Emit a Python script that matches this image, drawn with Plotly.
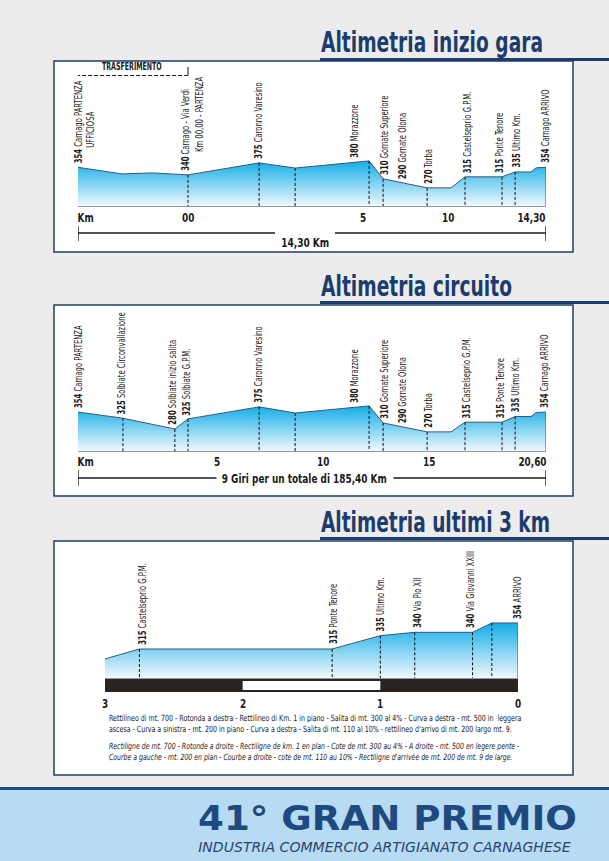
import json
import numpy as np
import plotly.graph_objects as go

W, H = 609, 861

# ---------------- data ----------------
# Profile 1 - "Altimetria inizio gara"  (x = position along the drawn profile, % of its length)
start_x = [0, 9.4, 16.0, 23.5, 38.7, 46.4, 62.2, 65.2, 74.6, 79.7, 82.7, 90.6, 93.4, 96.8, 97.9, 100]
start_alt = [354, 327, 331, 323, 372, 351, 380, 307, 270, 270, 315, 315, 335, 335, 352, 354]
start_marks = [23.5, 38.7, 46.4, 62.2, 65.2, 74.6, 82.7, 90.6, 93.4]
start_lab_x = [0, 23.1, 38.5, 59.2, 65.6, 69.2, 75.0, 83.1, 90.2, 93.6, 100]
start_lab_alt = ["354", "340", "375", "380", "310", "290", "270", "315", "315", "335", "354"]
start_lab_name = ["Carnago PARTENZA", "Carnago - Via Verdi", "Caronno Varesino", "Morazzone",
                  "Gornate Superiore", "Gornate Olona", "Torba", "Castelseprio G.P.M.",
                  "Ponte Tenore", "Ultimo Km.", "Carnago ARRIVO"]
start_extra_x = [2.6, 26.1]
start_extra_text = ["UFFICIOSA", "Km 00,00 - PARTENZA"]
start_tick_x = [1.5, 23.5, 60.9, 79.1, 96.8]
start_tick_text = ["Km", "00", "5", "10", "14,30"]
start_total = "14,30 Km"
transfer_x = [0, 23.5]
transfer_text = "TRASFERIMENTO"

# Profile 2 - "Altimetria circuito"
circ_x = [0, 9.6, 20.7, 23.5, 38.7, 46.4, 62.2, 65.2, 74.6, 79.7, 82.7, 90.6, 93.4, 96.8, 97.9, 100]
circ_alt = [354, 328, 282, 325, 376, 350, 380, 308, 270, 270, 311, 311, 335, 335, 352, 354]
circ_marks = [9.6, 20.7, 23.5, 38.7, 46.4, 62.2, 65.2, 74.6, 82.7, 90.6, 93.4]
circ_lab_x = [0, 9.4, 20.3, 23.3, 38.5, 59.2, 65.6, 69.2, 75.0, 83.1, 90.2, 93.4, 99.8]
circ_lab_alt = ["354", "325", "280", "325", "375", "380", "310", "290", "270", "315", "315", "335", "354"]
circ_lab_name = ["Carnago PARTENZA", "Solbiate Circonvallazione", "Solbiate inizio salita",
                 "Solbiate G.P.M.", "Caronno Varesino", "Morazzone", "Gornate Superiore",
                 "Gornate Olona", "Torba", "Castelseprio G.P.M.", "Ponte Tenore", "Ultimo Km.",
                 "Carnago ARRIVO"]
circ_tick_x = [1.5, 29.7, 52.4, 75.0, 97.2]
circ_tick_text = ["Km", "5", "10", "15", "20,60"]
circ_total = "9 Giri per un totale di 185,40 Km"

# Profile 3 - "Altimetria ultimi 3 km"  (x = km to the finish)
last_km = [3.0, 2.75, 1.35, 1.0, 0.75, 0.33, 0.19, 0.0]
last_alt = [300, 315, 315, 335, 340, 340, 354, 354]
last_marks = [2.75, 1.35, 1.0, 0.75, 0.33, 0.19]
last_lab_x = [2.73, 1.34, 1.0, 0.73, 0.34, 0.0]
last_lab_alt = ["315", "315", "335", "340", "340", "354"]
last_lab_name = ["Castelseprio G.P.M.", "Ponte Tenore", "Ultimo Km.", "Via Pio XII",
                 "Via Giovanni XXIII", "ARRIVO"]
last_tick_x = [3, 2, 1, 0]
last_tick_text = ["3", "2", "1", "0"]

titles = ["Altimetria inizio gara", "Altimetria circuito", "Altimetria ultimi 3 km"]

desc_it = ("Rettilineo di mt. 700 - Rotonda a destra - Rettilineo di Km. 1 in piano - Salita di mt. 300 al 4% - Curva a destra - mt. 500 in  leggera<br>"
           "ascesa - Curva a sinistra - mt. 200 in piano - Curva a destra - Salita di mt. 110 al 10% - rettilineo d'arrivo di mt. 200 largo mt. 9.")
desc_fr = ("Rectiligne de mt. 700 - Rotonde a droite - Rectiligne de km. 1 en plan - Cote de mt. 300 au 4% - A droite - mt. 500 en legere pente -<br>"
           "Courbe a gauche - mt. 200 en plan - Courbe a droite - cote de mt. 110 au 10% - Rectiligne d'arrivée de mt. 200 de mt. 9 de large.")
banner_title = "41° GRAN PREMIO"
banner_sub = "INDUSTRIA COMMERCIO ARTIGIANATO CARNAGHESE"

# ---------------- style ----------------
NARROW = "DejaVu Sans Condensed, Liberation Sans Narrow, sans-serif"
NAVY = "#1c3c6e"
INK = "#1a1a1a"
GRAD = [[0, "#f0f8fd"], [1, "#12ade7"]]
LAB_SIZE = 10
LAB_SQUEEZE = 0.76     # horizontal condensing of the small labels
TICK_SQUEEZE = 0.76
PX_PER_U = (546 - 78) / 100


def fx(px):
    return px / W


def fy(py):
    return 1 - py / H


fig = go.Figure()
shapes = []
annotations = []
squeeze = {}   # annotation index -> [mode, value, origin]


def add_ann(ann, mode=None, value=None, origin="left"):
    if mode:
        squeeze[len(annotations)] = [mode, value, origin]
    annotations.append(ann)


panels = [
    dict(xa="x", ya="y", xs=start_x, el=start_alt, marks=start_marks,
         lx=start_lab_x, la=start_lab_alt, ln=start_lab_name, base=196, top=788,
         xdom=(78, 546), ybot=206, ytop=61, xr=[0, 100],
         tx=start_tick_x, tt=start_tick_text, ty=218),
    dict(xa="x2", ya="y2", xs=circ_x, el=circ_alt, marks=circ_marks,
         lx=circ_lab_x, la=circ_lab_alt, ln=circ_lab_name, base=189, top=807.6,
         xdom=(78, 546), ybot=451, ytop=305, xr=[0, 100],
         tx=circ_tick_x, tt=circ_tick_text, ty=461),
    dict(xa="x3", ya="y3", xs=last_km, el=last_alt, marks=last_marks,
         lx=last_lab_x, la=last_lab_alt, ln=last_lab_name, base=271.5, top=476.9,
         xdom=(105, 518), ybot=678, ytop=541, xr=[3, 0],
         tx=last_tick_x, tt=last_tick_text, ty=703),
]

layout_axes = {}
for i, p in enumerate(panels):
    xs, el, base = p["xs"], p["el"], p["base"]
    order = np.argsort(xs)
    xs_sorted = np.array(xs)[order]
    el_sorted = np.array(el)[order]

    fig.add_trace(go.Scatter(
        x=list(xs) + [xs[-1]], y=list(el) + [base], xaxis=p["xa"], yaxis=p["ya"],
        mode="lines", line=dict(color="#3c5670", width=1), fill="tozeroy",
        fillgradient=dict(type="vertical", start=base, stop=max(el), colorscale=GRAD),
        hoverinfo="skip", showlegend=False))
    mx, my = [], []
    for m in p["marks"]:
        e = float(np.interp(m, xs_sorted, el_sorted))
        mx += [m, m, None]
        my += [e, base, None]
    fig.add_trace(go.Scatter(
        x=mx, y=my, xaxis=p["xa"], yaxis=p["ya"], mode="lines",
        line=dict(color="#111111", width=1, dash="3px,2px"),
        hoverinfo="skip", showlegend=False))
    for lx, la, ln in zip(p["lx"], p["la"], p["ln"]):
        e = float(np.interp(lx, xs_sorted, el_sorted))
        add_ann(dict(
            x=lx, y=e, xref=p["xa"], yref=p["ya"], text=f"<b>{la}</b> {ln}",
            textangle=-90, showarrow=False, xanchor="center", yanchor="bottom",
            yshift=2, font=dict(family=NARROW, size=LAB_SIZE, color=INK)),
            "k", LAB_SQUEEZE, "left")
    # km tick labels
    for tx, tt in zip(p["tx"], p["tt"]):
        add_ann(dict(x=tx, y=fy(p["ty"]), xref=p["xa"], yref="paper", text=f"<b>{tt}</b>",
                     showarrow=False, xanchor="center", yanchor="middle",
                     font=dict(family=NARROW, size=13, color=INK)),
                "k", TICK_SQUEEZE, "center")

    suffix = "" if i == 0 else str(i + 1)
    layout_axes["xaxis" + suffix] = dict(
        domain=[fx(p["xdom"][0]), fx(p["xdom"][1])], range=p["xr"], anchor="y" + suffix,
        showgrid=False, zeroline=False, showline=True, linecolor="#8c9aa6", linewidth=1,
        ticks="", showticklabels=False, fixedrange=True)
    layout_axes["yaxis" + suffix] = dict(
        domain=[fy(p["ybot"]), fy(p["ytop"])], range=[base, p["top"]], anchor="x" + suffix,
        visible=False, fixedrange=True)

for ex, et in zip(start_extra_x, start_extra_text):
    e = float(np.interp(ex, start_x, start_alt))
    add_ann(dict(
        x=ex, y=e, xref="x", yref="y", text=et, textangle=-90, showarrow=False,
        xanchor="center", yanchor="bottom", yshift=19,
        font=dict(family=NARROW, size=LAB_SIZE, color=INK)), "k", LAB_SQUEEZE, "left")

# panel frames
for (y0, y1) in [(61, 252), (305, 496), (541, 775)]:
    shapes.append(dict(type="rect", xref="paper", yref="paper", x0=fx(54), x1=fx(573),
                       y0=fy(y1), y1=fy(y0), fillcolor="white",
                       line=dict(color="#1f3d66", width=1.5), layer="below"))
# titles with underline bars
for t, (uy, base_y), tw in zip(titles, [(58, 61), (301, 305), (537, 541)], [222, 191, 229]):
    shapes.append(dict(type="rect", xref="paper", yref="paper", x0=fx(320), x1=1,
                       y0=fy(uy + 3), y1=fy(uy), fillcolor=NAVY, line=dict(width=0),
                       layer="above"))
    add_ann(dict(x=fx(319), y=fy(base_y), xref="paper", yref="paper", text=f"<b>{t}</b>",
                 showarrow=False, xanchor="left", yanchor="bottom",
                 font=dict(family=NARROW, size=28, color=NAVY)), "w", tw, "left")

# total distance brackets
for xa, ytick, txt, tw in [("x", (226, 233, 241), start_total, 48),
                           ("x2", (470, 478, 486), circ_total, 165)]:
    cx = 48.5
    gap = (tw / 2 + 6) / PX_PER_U
    for xa0, xa1 in [(0, cx - gap), (cx + gap, 100)]:
        shapes.append(dict(type="line", xref=xa, yref="paper", x0=xa0, x1=xa1,
                           y0=fy(ytick[1]), y1=fy(ytick[1]), line=dict(color=INK, width=1.3)))
    for xe in (0, 100):
        shapes.append(dict(type="line", xref=xa, yref="paper", x0=xe, x1=xe,
                           y0=fy(ytick[0]), y1=fy(ytick[2]), line=dict(color=INK, width=1.3)))
    add_ann(dict(x=cx, y=fy(ytick[1]), xref=xa, yref="paper", text=f"<b>{txt}</b>",
                 showarrow=False, font=dict(family=NARROW, size=13, color=INK)),
            "w", tw, "center")

# trasferimento bracket
shapes.append(dict(type="line", xref="x", yref="paper", x0=transfer_x[0] - 0.4, x1=transfer_x[1],
                   y0=fy(75.5), y1=fy(75.5), line=dict(color=INK, width=1, dash="4px,2px")))
for xe in (transfer_x[0] - 0.4, transfer_x[1]):
    shapes.append(dict(type="line", xref="x", yref="paper", x0=xe, x1=xe,
                       y0=fy(75.5), y1=fy(67), line=dict(color=INK, width=1)))
add_ann(dict(x=11.5, y=fy(74.5), xref="x", yref="paper", text=f"<b>{transfer_text}</b>",
             showarrow=False, yanchor="bottom",
             font=dict(family=NARROW, size=10, color=INK)), "w", 60, "center")

# last-3-km road bar
shapes.append(dict(type="rect", xref="x3", yref="paper", x0=3, x1=0, y0=fy(692), y1=fy(679),
                   fillcolor="#2a2420", line=dict(width=0)))
shapes.append(dict(type="rect", xref="x3", yref="paper", x0=2, x1=1, y0=fy(690), y1=fy(681),
                   fillcolor="white", line=dict(width=0)))

# description
add_ann(dict(x=fx(107), y=fy(711), xref="paper", yref="paper", text=desc_it,
             showarrow=False, xanchor="left", yanchor="top", align="left",
             font=dict(family=NARROW, size=8.6, color=INK)), "w", 413, "left")
add_ann(dict(x=fx(107), y=fy(739), xref="paper", yref="paper", text=f"<i>{desc_fr}</i>",
             showarrow=False, xanchor="left", yanchor="top", align="left",
             font=dict(family=NARROW, size=8.6, color=INK)), "w", 411, "left")

# banner
shapes.append(dict(type="rect", xref="paper", yref="paper", x0=0, x1=1, y0=0, y1=fy(790),
                   fillcolor="#b7dbf2", line=dict(width=0), layer="below"))
shapes.append(dict(type="rect", xref="paper", yref="paper", x0=0, x1=1, y0=fy(790), y1=fy(787),
                   fillcolor="#1f4a7d", line=dict(width=0), layer="below"))
add_ann(dict(x=fx(196), y=fy(840), xref="paper", yref="paper", text=f"<b>{banner_title}</b>",
             showarrow=False, xanchor="left", yanchor="bottom",
             font=dict(family="DejaVu Sans, sans-serif", size=34, color="#1f4a80")), "w", 379, "left")
add_ann(dict(x=fx(196), y=fy(847), xref="paper", yref="paper", text=f"<i>{banner_sub}</i>",
             showarrow=False, xanchor="left", yanchor="middle",
             font=dict(family="DejaVu Sans, sans-serif", size=14, color="#2a4470")), "w", 373, "left")

fig.update_layout(
    width=W, height=H, margin=dict(l=0, r=0, t=0, b=0),
    paper_bgcolor="#ececec", plot_bgcolor="rgba(0,0,0,0)",
    showlegend=False, shapes=shapes, annotations=annotations, **layout_axes)

post = """
document.body.style.margin='0';document.body.style.overflow='hidden';
var spec = %s;
document.querySelectorAll('g.annotation').forEach(function(g){
  var s = spec[g.getAttribute('data-index')];
  if(!s) return;
  var t = g.querySelector('text.annotation-text');
  if(!t) return;
  var w = t.getBBox().width;
  var k = s[0]==='w' ? s[1]/w : s[1];
  t.style.transformBox='fill-box';
  t.style.transformOrigin = s[2] + ' center';
  t.style.transform = 'scaleX(' + k + ')';
});
""" % json.dumps({str(k): v for k, v in squeeze.items()})

fig.write_html("out.html", config={"displayModeBar": False, "staticPlot": True},
               post_script=post)
